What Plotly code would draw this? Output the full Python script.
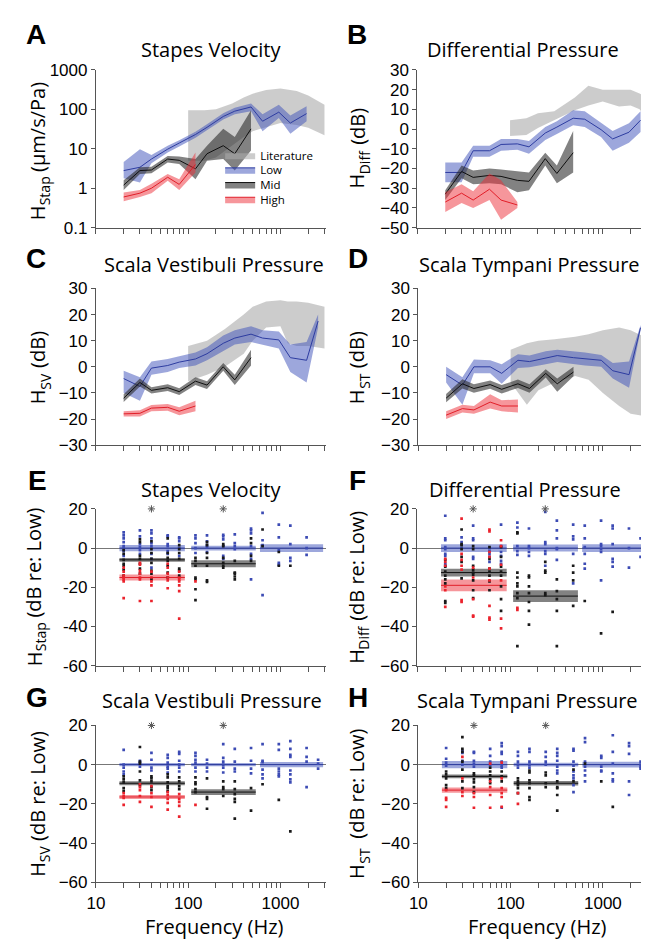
import plotly.graph_objects as go

# ---------------------------------------------------------------- data
FREQ = [20, 30, 40, 60, 80, 120, 160, 240, 320, 480, 640, 960, 1280, 1920, 2560]

# Panel A  stapes velocity (um/s/Pa)
A_low = [2.8, 3.4, 5.5, 9.8, 14, 23, 35, 66, 90, 115, 50, 85, 45, 78]
A_low_lo = [1.8, 1.4, 4.3, 8, 11.5, 19, 29, 55, 75, 90, 28, 60, 24, 50]
A_low_hi = [4.6, 9.8, 7, 12, 16.5, 27, 42, 80, 110, 140, 75, 130, 70, 120]
A_mid = [1.2, 2.8, 2.9, 5.5, 5.1, 3.1, 7.5, 12, 7.5, 32]
A_mid_lo = [0.9, 2.3, 2.4, 4.5, 4.1, 1.7, 5, 5.5, 2.8, 9]
A_mid_hi = [1.6, 3.4, 3.5, 6.6, 6.4, 5.5, 12, 32, 20, 95]
A_high = [0.6, 0.75, 1.0, 1.9, 1.25, 4]
A_high_lo = [0.47, 0.6, 0.75, 1.55, 0.9, 2.5]
A_high_hi = [0.78, 0.9, 1.3, 2.3, 1.7, 8]
A_lit_f = [100, 150, 200, 300, 400, 500, 700, 1000, 1500, 2000, 3000]
A_lit_lo = [5, 5, 6, 12, 20, 28, 35, 45, 40, 34, 22]
A_lit_hi = [95, 95, 100, 140, 200, 250, 310, 340, 290, 225, 130]

# Panel B  differential pressure (dB)
B_low = [-22, -22, -11, -11, -7.8, -7.5, -9, -2, 1, 5.5, 5, -0.3, -5, -1.6, 4.5]
B_low_lo = [-27, -27, -14, -14, -11, -10.5, -12.5, -5.5, -2.5, 2, 1, -4, -11, -7, -1.5]
B_low_hi = [-17, -17, -8.5, -8.5, -5, -5, -6, 1, 4, 9.5, 9, 3, -1, 3, 9]
B_mid = [-33, -21.5, -24.5, -23.5, -24, -26, -26.5, -15, -22.5, -12]
B_mid_lo = [-36, -25, -28, -27.5, -28, -32, -31, -18.5, -27.5, -22]
B_mid_hi = [-31, -18.5, -21, -20, -20.5, -21.5, -22, -12, -18.5, -1]
B_high = [-37, -32.5, -36, -30.5, -36, -38.5]
B_high_lo = [-42, -37.5, -40, -36, -46, -40]
B_high_hi = [-32, -28, -31.5, -22.5, -26, -37]
B_lit_f = [100, 150, 200, 300, 500, 700, 1000, 1500, 2000, 2500, 3000]
B_lit_lo = [-3.5, -3, 0.5, 4.5, 9.5, 12, 14, 11.5, 12, 10, 5]
B_lit_hi = [4.5, 5.5, 8, 9, 16, 22, 20, 20, 20, 18, 16]

# Panel C  scala vestibuli pressure (dB)
C_low = [-4.5, -7.5, -0.5, 0.5, 1.8, 3, 5, 9, 11, 12.5, 11, 10.3, 3.5, 2.5, 17.5]
C_low_lo = [-10, -13, -3, -2, -0.5, 0.5, 2.5, 6, 8.5, 9.5, 8.5, 7, -2, -6, 15]
C_low_hi = [-1.5, -4, 2, 3, 4, 5.5, 7.5, 12, 14, 15.5, 14, 13.5, 8.5, 9.5, 20]
C_mid = [-12, -6, -9, -8, -9.5, -5.5, -7, 0, -5, 3.5]
C_mid_lo = [-13.5, -7.5, -10.2, -9.3, -10.8, -7, -8.5, -1.5, -7, 0.5]
C_mid_hi = [-10.5, -4.5, -7.8, -6.7, -8.2, -4, -5.5, 1.5, -3, 6.5]
C_high = [-18, -17.8, -15.8, -15.5, -17, -15]
C_high_lo = [-19, -19, -17, -16.8, -18.5, -17]
C_high_hi = [-17, -16.6, -14.6, -14.2, -15.5, -13]
C_lit_f = [100, 160, 250, 400, 500, 700, 1000, 1200, 1500, 2000, 3000]
C_lit_lo = [-5.5, -3, 0, 5, 10, 15, 15.5, 9, 8, 8, 7]
C_lit_hi = [8, 10, 14.5, 20, 23, 25, 25.5, 25, 25, 24.5, 23]

# Panel D  scala tympani pressure (dB)
D_low = [-3, -7, 0, 0, -2.5, 2.5, 2, 3.5, 4.3, 3.5, 3, 2.5, -1.5, -3, 15]
D_low_lo = [-6, -14.5, -2.5, -2.5, -6.5, -0.5, -0.2, 1, 1.8, 1, 0.5, 0, -4.5, -8, 14]
D_low_hi = [0, -4, 2.8, 2.5, 1, 4.8, 4.3, 6, 6.5, 6, 5.5, 4.5, 1.5, 2, 16]
D_mid = [-12, -6.5, -8.3, -6.8, -8.6, -6.5, -8.3, -2.5, -6.5, -2]
D_mid_lo = [-13.6, -8.3, -9.9, -8.4, -10.2, -8.1, -9.9, -4.1, -9.5, -3.6]
D_mid_hi = [-10.4, -4.8, -6.7, -5.2, -7, -4.9, -6.7, -0.9, -4.5, 0]
D_high = [-18.5, -16, -16.5, -13.5, -15, -15]
D_high_lo = [-20, -17.5, -18, -16, -17, -17.5]
D_high_hi = [-17, -14.5, -15, -10.5, -12.8, -12.5]
D_lit_f = [100, 150, 200, 300, 500, 700, 1000, 1500, 2000, 3000]
D_lit_lo = [-6, -14.5, -9, -6, -3.5, -5, -10, -15, -18, -19]
D_lit_hi = [6.5, 9, 10, 10.5, 11.5, 12.5, 14, 15, 14, 11]

# Panels E-H  individual ears re: Low (dB), one list per frequency in FREQ
E_low = [[8, 6.5, 5, 3, 1, 0, -1.5, -4], [9, 6, 2, 0.5, -1, -3], [9, 7.5, 5, 2.5, 1, -3, -5.5, -10],
         [6.5, 6, 2, 1, -1.5, -3], [5.5, 5, 3.5, 0, -4], [6.5, 5, 2.5, 0, -2.5], [6.5, 3.5, 1.5, 0.5, -2],
         [6.8, 6, 4.5, 1, -4, -5.5], [7, 2.5, 1, -0.5], [10, 9, 7.5, 1, -3, -5.5, -16], [18, 4, 1.5, -24],
         [12, 5.5, -1, -7.5, -8.5], [11.5, 2, -5, -6.5], [5.5, 0, -3.5], []]
E_mid = [[-1, -3, -6, -8, -9, -11, -14], [4.5, 3, -4, -5.5, -8, -10.5, -13],
         [3.5, -0.5, -2.5, -5.5, -7.5, -11.5, -13, -16], [5, -2.5, -5, -6.5, -9, -12.5, -15],
         [1.5, -0.5, -2.5, -5.5, -10.5, -11.5, -14], [-5, -6.5, -9, -15, -16, -21, -26.5],
         [3, 1.5, -2.5, -5, -9, -16.5, -17.3], [2, 1, -5, -7.5, -9, -10], [-6.5, -12.5, -13, -14.5, -16],
         [5, 2.5, -4, -6.5], [9.5, 1], [-2, -9], [-9], [], []]
E_high = [[-10, -12, -14, -15, -16, -17, -25.5], [-7.5, -8.5, -11.5, -13, -15, -16, -27],
          [-12, -15, -17, -19, -27], [-8, -10, -13, -15, -16.5, -20.5], [-12, -15, -16, -17, -19, -22, -36],
          [-17], [], [], [], [], [], [], [], [], []]

F_low = [[16.5, 5, 4, 0.5, -0.5, -3, -4, -8, -9], [5.5, 3, 0], [11.5, 5, 4, -4.5, -5.5], [0, -1.5, -3, -4.5, -7],
         [12, 1, 0.5, -2, -4, -6.5, -8], [13, 10.5, 1, -1.5, -3.5], [10, 1, 0, -2, -4], [18.5, 3, 2, -1.5, -3, -9],
         [14, 9, 5, 0, -0.5, -6], [12, 6, 4.5, -3, -18], [11.5, 5, 0.5, -3, -8, -10.5],
         [14, 2, 1, -0.5, -2, -16.5], [11.5, 10, 2, -5.5, -7, -9.5], [10, 0, -10], [5, -4.5]]
F_mid = [[-6, -9.5, -12, -14, -16, -18, -27, -28], [9.5, 2, 1.5, -0.5, -4.5, -7, -15.5],
         [1, -0.5, -9, -11, -12.5, -13.5, -16.5, -21.5, -25.5], [0.5, -5.5, -10.5, -12, -14, -17, -21.5],
         [0.5, -4.5, -9.5, -12, -14, -19.5, -26, -32], [8, 7.5, -12.5, -15, -18, -19.5, -23, -25.5, -50],
         [-14, -15, -19.5, -23, -27.5, -32, -39], [-7, -11.5, -12.5, -23, -24], [-16, -22, -26, -32, -50],
         [-9, -12.5, -16.5, -29.5], [-27], [-43.5], [-32.5], [], []]
F_high = [[-5.5, -7, -9, -19.5, -21.5, -30], [15, -3, -6, -9, -11, -26.5, -27.5], [-10, -15, -26, -34.5, -35],
          [9.5, 8.5, -2, -4.5, -10.5, -16.5, -29.5, -35.5, -36.5], [4, 1, -8.5, -16.5, -36, -41],
          [-30.5, -31.5], [], [], [], [], [], [], [], [], []]

G_low = [[7.5, 0, -1.5, -3.5, -5], [2, 1, -1], [6, 2.5, -1.5, -3], [5, 3.5, 1, -1, -2, -4],
         [6.5, 5.5, 2, 0, -1.5, -3.5], [6, 4.5, 2.5, 1, -1.5, -3.5], [2.5, 0.5, -1.5, -3.5],
         [10.5, 3.5, 1.5, 0, -1.5, -4], [8, 1.5, -2, -3.5], [8.5, 2, -2, -4.5], [10.5, 2, 1.3, -2.5, -5, -7],
         [10.5, 7.5, -2, -3.5, -5, -6], [12, 8, 5, 4, -3, -5, -7.5, -9], [8.5, 4, 1.5, -11.5], [2.5, 0.5, -2]]
G_mid = [[-6, -7.5, -9, -12, -13.5], [9, 1.5, 0.5, -3.5, -8, -10.5], [-6, -7, -8.5, -11.5, -13],
         [-5, -6.5, -9, -11, -12, -13.5], [-6.5, -8.5, -11, -12.5], [-6.5, -9, -10, -12.5, -14],
         [-7, -16.5, -17.5, -22.5], [-8.5, -11.5, -12.5, -16], [-8.5, -12.5, -15, -17.5, -19, -27.5],
         [-12, -23.5], [-10], [-18], [-34], [], []]
G_high = [[-14.5, -16, -17, -20.5], [-10, -11.5, -13, -16, -19], [-11, -14.5, -16.5, -21.5],
          [-14, -15.5, -17.5, -19.5, -23], [-15, -17.5, -19, -21, -26.5], [-20.5], [], [], [], [], [], [], [], [], []]

H_low = [[8.5, 3, 1, -0.5], [7, 6, 2, 0], [6.5, 6, 2, 0.5, -1], [8, 4.5, 1.5, 0],
         [11, 9.5, 6.5, 5.5, 1.5, -0.5, -1.5, -22], [6.5, 4.5, 1.5, 0, -1.5], [8, 6.5, 1.5, 0, -1.5],
         [6.5, 4, 1.5, 0], [8, 6, 4.5, 2, -1, -3, -4.5], [8, 7.2, 1.5, -0.5, -3.5, -5.5, -7, -10.5, -14],
         [13.5, 11.5, 1.5, -1, -3, -5.5, -8.5], [4.5, 3.5, -1, -3, -3.5], [15, 6.5, 0.5, -4.5, -7.5, -8.5],
         [11, 9.5, 5.5, -8.5, -15.5], [1.5, 0, -1.2, -2]]
H_mid = [[-3.5, -5, -7, -10.5, -12], [14, 8, 6.5, 1.5, -2.5, -8.5, -12], [-4.5, -5.5, -7.5, -9, -11.5, -14],
         [-1.5, -3.5, -5.5, -7.5, -9.5], [-3.5, -6, -8.5], [-7, -8.5, -9.5, -10.5, -12, -14.5],
         [-3, -4, -8, -9.5, -12, -16.5, -18], [-4, -5.5, -9.5, -11.5], [-8.5, -11.5, -12, -15.5, -23.5],
         [-2.5, -8.5], [0.5], [-8.5], [-21.5], [], []]
H_high = [[-13, -17, -18, -21.5], [4, -7, -14, -16], [-14.5, -16.5, -22], [0.5, -8.5, -11.5, -15.5, -22],
          [1, -7, -12, -14.5, -16.5, -21.5], [-14.5, -20], [], [], [], [], [], [], [], [], []]

# group means (dB re: Low) and their half-widths, frequency groups
GROUP_F0 = [18, 108, 600]
GROUP_F1 = [92, 540, 2900]
E_bar_low, E_bar_low_se = [0, 0, 0], [1.6, 1.2, 2.0]
E_bar_mid, E_bar_mid_se = [-6, -8], [1.0, 1.8]
E_bar_high, E_bar_high_se = [-15], [1.5]
F_bar_low, F_bar_low_se = [0, 0, 0], [2.0, 1.8, 2.0]
F_bar_mid, F_bar_mid_se = [-12.5, -24.5], [2.0, 3.0]
F_bar_high, F_bar_high_se = [-19], [3.0]
G_bar_low, G_bar_low_se = [0, 0, 0], [0.8, 0.8, 1.3]
G_bar_mid, G_bar_mid_se = [-9.5, -14], [1.0, 1.5]
G_bar_high, G_bar_high_se = [-16.5], [1.0]
H_bar_low, H_bar_low_se = [0, 0, 0], [1.8, 1.0, 1.5]
H_bar_mid, H_bar_mid_se = [-6, -9.5], [1.0, 1.2]
H_bar_high, H_bar_high_se = [-13], [1.3]

# significance markers (frequency, dB)
STAR_F = [40, 240]
STAR_Y = [20, 20]

# ---------------------------------------------------------------- style
W, H = 649, 944
FONT = "Open Sans"
TICKFONT = "Liberation Sans"
AXC = "#555555"
LIT_FILL = "rgba(170,170,170,0.6)"
COL = {
    'low': dict(fill="rgba(60,80,185,0.5)", line="rgb(45,60,160)", dot="rgb(60,75,180)"),
    'mid': dict(fill="rgba(40,40,40,0.58)", line="rgb(15,15,15)", dot="rgb(25,25,25)"),
    'high': dict(fill="rgba(238,45,55,0.5)", line="rgb(225,30,40)", dot="rgb(235,35,45)"),
}

fig = go.Figure()


def px(x):
    return x / W


def py(y):
    return 1 - y / H


def band(f, lo, hi, fill, n):
    fig.add_trace(go.Scatter(x=list(f) + list(f)[::-1], y=list(hi) + list(lo)[::-1],
                             fill='toself', fillcolor=fill, mode='lines', line=dict(width=0),
                             hoverinfo='skip', showlegend=False, xaxis='x%d' % n, yaxis='y%d' % n))


def cline(f, v, color, n):
    fig.add_trace(go.Scatter(x=f, y=v, mode='lines', line=dict(color=color, width=1),
                             hoverinfo='skip', showlegend=False, xaxis='x%d' % n, yaxis='y%d' % n))


def curve_panel(n, lit, groups):
    band(lit[0], lit[1], lit[2], LIT_FILL, n)
    for key, (v, lo, hi) in groups:
        f = FREQ[:len(v)]
        band(f, lo, hi, COL[key]['fill'], n)
        cline(f, v, COL[key]['line'], n)


curve_panel(1, (A_lit_f, A_lit_lo, A_lit_hi),
            [('low', (A_low, A_low_lo, A_low_hi)), ('mid', (A_mid, A_mid_lo, A_mid_hi)),
             ('high', (A_high, A_high_lo, A_high_hi))])
curve_panel(2, (B_lit_f, B_lit_lo, B_lit_hi),
            [('low', (B_low, B_low_lo, B_low_hi)), ('mid', (B_mid, B_mid_lo, B_mid_hi)),
             ('high', (B_high, B_high_lo, B_high_hi))])
curve_panel(3, (C_lit_f, C_lit_lo, C_lit_hi),
            [('low', (C_low, C_low_lo, C_low_hi)), ('mid', (C_mid, C_mid_lo, C_mid_hi)),
             ('high', (C_high, C_high_lo, C_high_hi))])
curve_panel(4, (D_lit_f, D_lit_lo, D_lit_hi),
            [('low', (D_low, D_low_lo, D_low_hi)), ('mid', (D_mid, D_mid_lo, D_mid_hi)),
             ('high', (D_high, D_high_lo, D_high_hi))])


def scatter_panel(n, dots, bars):
    for key, (means, se) in bars:
        for i, (m, s) in enumerate(zip(means, se)):
            a, b = GROUP_F0[i], GROUP_F1[i]
            band([a, b], [m - s, m - s], [m + s, m + s], COL[key]['fill'], n)
            cline([a, b], [m, m], COL[key]['line'], n)
    for key, cols in dots:
        xs, ys = [], []
        for f, col in zip(FREQ, cols):
            for v in col:
                xs.append(f)
                ys.append(v)
        fig.add_trace(go.Scatter(x=xs, y=ys, mode='markers',
                                 marker=dict(symbol='square', size=2.7, color=COL[key]['dot'], line=dict(width=0)),
                                 hoverinfo='skip', showlegend=False, xaxis='x%d' % n, yaxis='y%d' % n))
    fig.add_trace(go.Scatter(x=STAR_F, y=STAR_Y, mode='markers', cliponaxis=False,
                             marker=dict(symbol='asterisk-open', size=6, color='#555555',
                                         line=dict(color='#555555', width=1)),
                             hoverinfo='skip', showlegend=False, xaxis='x%d' % n, yaxis='y%d' % n))


scatter_panel(5, [('low', E_low), ('mid', E_mid), ('high', E_high)],
              [('low', (E_bar_low, E_bar_low_se)), ('mid', (E_bar_mid, E_bar_mid_se)),
               ('high', (E_bar_high, E_bar_high_se))])
scatter_panel(6, [('low', F_low), ('mid', F_mid), ('high', F_high)],
              [('low', (F_bar_low, F_bar_low_se)), ('mid', (F_bar_mid, F_bar_mid_se)),
               ('high', (F_bar_high, F_bar_high_se))])
scatter_panel(7, [('low', G_low), ('mid', G_mid), ('high', G_high)],
              [('low', (G_bar_low, G_bar_low_se)), ('mid', (G_bar_mid, G_bar_mid_se)),
               ('high', (G_bar_high, G_bar_high_se))])
scatter_panel(8, [('low', H_low), ('mid', H_mid), ('high', H_high)],
              [('low', (H_bar_low, H_bar_low_se)), ('mid', (H_bar_mid, H_bar_mid_se)),
               ('high', (H_bar_high, H_bar_high_se))])

# ---------------------------------------------------------------- legend (panel A), one legend-only trace per row
LEG_ITEMS = [('Literature', LIT_FILL, None), ('Low', COL['low']['fill'], COL['low']['line']),
             ('Mid', COL['mid']['fill'], COL['mid']['line']), ('High', COL['high']['fill'], COL['high']['line'])]
LEG_ROW_Y = [141, 156, 171, 186]   # legend anchor rows (px); rendered text sits ~16 px lower
legends = {}
for k, ((name, fillc, linec), ry) in enumerate(zip(LEG_ITEMS, LEG_ROW_Y), start=1):
    lname = 'legend' if k == 1 else 'legend%d' % k
    fig.add_trace(go.Scatter(x=[None], y=[None], mode='lines', name=name, fill='toself', fillcolor=fillc,
                             line=dict(color=linec or fillc, width=1 if linec else 0),
                             showlegend=True, legend=lname, xaxis='x1', yaxis='y1'))
    legends[lname] = dict(x=px(206), y=py(ry), xanchor='left', yanchor='middle',
                          bgcolor='rgba(0,0,0,0)', borderwidth=0, itemwidth=30,
                          font=dict(family=FONT, size=11.5, color='black'))

# ---------------------------------------------------------------- axes
PANELS = [(80, 313, 54, 215), (406, 640, 54, 215), (80, 313, 277, 437), (407, 640, 277, 437),
          (80, 313, 502, 662), (406, 640, 502, 662), (80, 313, 723, 883), (407, 640, 723, 883)]
XTICKS = [10, 20, 30, 40, 50, 60, 70, 80, 90, 100, 200, 300, 400, 500, 600, 700, 800, 900, 1000, 2000, 3000]
XTICKTEXT = ['10' if v == 10 else '100' if v == 100 else '1000' if v == 1000 else '' for v in XTICKS]

layout = dict(width=W, height=H, margin=dict(l=0, r=0, t=0, b=0), paper_bgcolor='white',
              plot_bgcolor='white', font=dict(family=FONT, size=17, color='black'), showlegend=True)
layout.update(legends)

for i, (x0, x1, y0, y1) in enumerate(PANELS):
    n = i + 1
    labels = n in (7, 8)
    layout['xaxis%d' % n] = dict(
        type='log', range=[1, 3.49], domain=[px(x0), px(x1)], anchor='y%d' % n,
        showline=True, linecolor=AXC, linewidth=1, ticks='outside', ticklen=5, tickcolor=AXC, tickwidth=1,
        tickvals=XTICKS, ticktext=XTICKTEXT, showticklabels=labels,
        showgrid=False, zeroline=False, tickfont=dict(family=TICKFONT, size=17, color='black'))
    yax = dict(domain=[py(y1), py(y0)], anchor='x%d' % n, showline=True, linecolor=AXC, linewidth=1,
               ticks='outside', ticklen=4, tickcolor=AXC, showgrid=False, zeroline=False,
               tickfont=dict(family=TICKFONT, size=17, color='black'))
    if n == 1:
        yax.update(type='log', range=[-1, 3], tickvals=[0.1, 1, 10, 100, 1000],
                   ticktext=['0.1', '1', '10', '100', '1000'])
    elif n == 2:
        yax.update(range=[-50, 30], tickmode='linear', tick0=-50, dtick=10)
    elif n in (3, 4):
        yax.update(range=[-30, 30], tickmode='linear', tick0=-30, dtick=10)
    else:
        yax.update(range=[-60, 20], tickvals=[-60, -40, -20, 0, 20],
                   zeroline=True, zerolinecolor='#777777', zerolinewidth=1)
        if n == 5:
            yax.update(ticktext=['-60', '-40', '-20', '0', '20'])
    layout['yaxis%d' % n] = yax

# ---------------------------------------------------------------- text
ann = []


def add_text(t, x, y, size, family=FONT, angle=0, xanchor='center'):
    ann.append(dict(text=t, x=px(x), y=py(y), xref='paper', yref='paper', xanchor=xanchor,
                    yanchor='middle', textangle=angle, showarrow=False,
                    font=dict(family=family, size=size, color='black')))


LETTERS = [('A', 7, 18), ('B', 333, 18), ('C', 7, 246), ('D', 334, 246),
           ('E', 9, 473), ('F', 335, 473), ('G', 7, 694), ('H', 334, 694)]
for t, x, y in LETTERS:
    add_text('<b>%s</b>' % t, x, y, 28, family='Liberation Sans', xanchor='left')

TITLES = [('Stapes Velocity', 197, 33), ('Differential Pressure', 513, 33),
          ('Scala Vestibuli Pressure', 200, 253), ('Scala Tympani Pressure', 520, 253),
          ('Stapes Velocity', 197, 482), ('Differential Pressure', 515, 482),
          ('Scala Vestibuli Pressure', 198, 698), ('Scala Tympani Pressure', 518, 698)]
for t, x, y in TITLES:
    add_text(t, x, y, 20)

# rotated y titles: "H" + lowered smaller subscript + unit, composed along the reading direction
CW = {' ': 0.26, '(': 0.295, ')': 0.295, '/': 0.364, ':': 0.266, 'a': 0.556, 'd': 0.613, 'e': 0.561,
      'f': 0.339, 'i': 0.253, 'm': 0.93, 'o': 0.604, 'p': 0.613, 'r': 0.408, 's': 0.477, 't': 0.353,
      'w': 0.818, 'B': 0.635, 'D': 0.722, 'H': 0.738, 'L': 0.533, 'P': 0.602, 'S': 0.547, 'T': 0.551,
      'V': 0.585, 'μ': 0.615}


def tw(s, size):
    return sum(CW.get(c, 0.56) for c in s) * size


def ytitle(sub, rest, nspace, base_x, cy, s_main=20, s_sub=14, drop=5, pad=0.8):
    w_h, w_s, w_r = tw('H', s_main), tw(sub, s_sub), tw(rest, s_main)
    gap = tw(' ' * nspace, s_main)
    total = w_h + pad + w_s + pad + gap + w_r
    y_start = cy + total / 2
    cx_main = base_x - 0.388 * s_main
    cx_sub = base_x + drop - 0.388 * s_sub
    add_text('H', cx_main, y_start - w_h / 2, s_main, angle=-90)
    add_text(sub, cx_sub, y_start - w_h - pad - w_s / 2, s_sub, angle=-90)
    add_text(rest, cx_main, y_start - w_h - pad - w_s - pad - gap - w_r / 2, s_main, angle=-90)


YTITLES = [('Stap', '(μm/s/Pa)', 1, 28.5, 137), ('Diff', '(dB)', 1, 353, 134),
           ('SV', '(dB)', 1, 28.5, 358), ('ST', '(dB)', 1, 352, 358),
           ('Stap', '(dB re: Low)', 1, 25, 582), ('Diff', '(dB re: Low)', 1, 352, 582),
           ('SV', '(dB re: Low)', 1, 28.5, 803), ('ST', '(dB re: Low)', 2, 352, 803)]
for sub, rest, nsp, bx, cy in YTITLES:
    ytitle(sub, rest, nsp, bx, cy)

for x in (200, 528):
    add_text('Frequency (Hz)', x, 928, 20)
layout['annotations'] = ann

fig.update_layout(**layout)
fig.write_html("out.html")
